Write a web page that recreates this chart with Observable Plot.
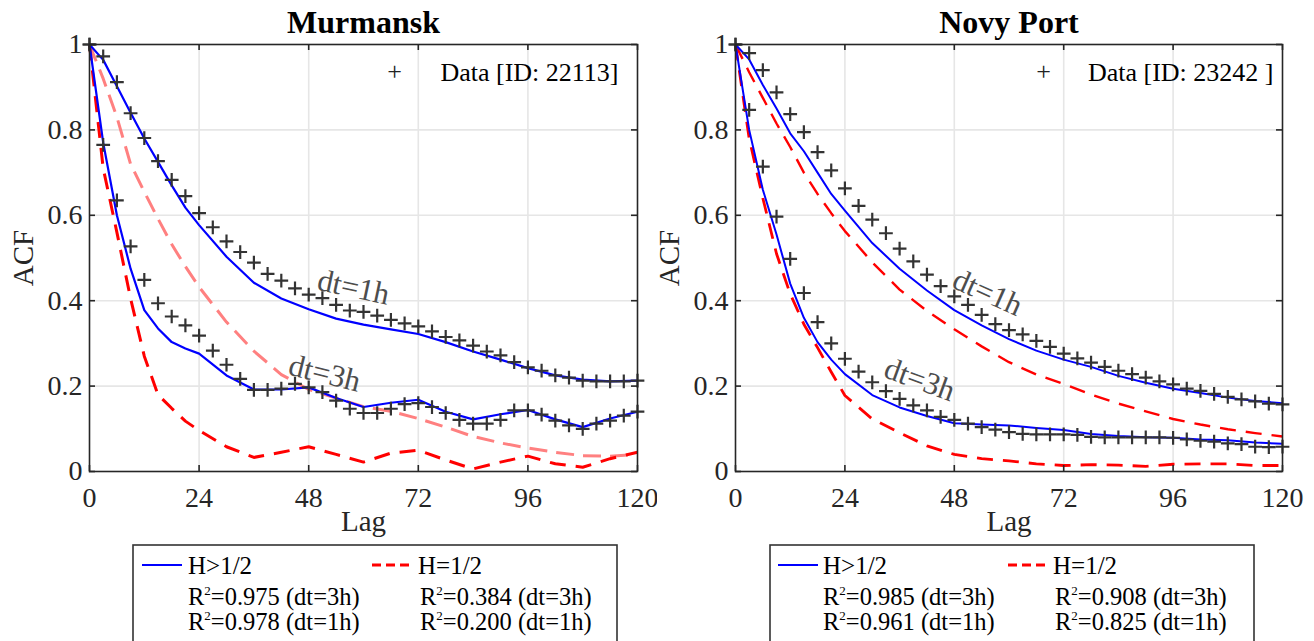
<!DOCTYPE html>
<html>
<head>
<meta charset="utf-8">
<script src="https://cdn.jsdelivr.net/npm/d3@7"></script>
<script src="https://cdn.jsdelivr.net/npm/@observablehq/plot@0.6"></script>
<style>
  html, body { margin: 0; padding: 0; background: #fff; }
  #root { position: relative; width: 1314px; height: 641px; overflow: hidden; background: #fff; font-family: "Liberation Serif", serif; }
  #root > svg { position: absolute; top: 0; }
</style>
</head>
<body>
<div id="root"></div>
<script>
// ---------- data ----------
const X_TICKS = [0, 24, 48, 72, 96, 120];
const Y_TICKS = [0, 0.2, 0.4, 0.6, 0.8, 1];

// lags of the data markers (every 3 h)
const dataLags = [0,3,6,9,12,15,18,21,24,27,30,33,36,39,42,45,48,51,54,57,60,63,66,69,72,75,78,81,84,87,90,93,96,99,102,105,108,111,114,117,120];
// lags of the fitted curves
const fitLags = [0,3,6,9,12,15,18,21,24,30,36,42,48,54,60,66,72,78,84,90,96,102,108,114,120];

// Murmansk
const murmanskData1h = [1.0,0.972,0.912,0.839,0.781,0.727,0.683,0.645,0.605,0.572,0.539,0.514,0.489,0.463,0.447,0.429,0.414,0.406,0.390,0.377,0.374,0.365,0.355,0.347,0.340,0.328,0.315,0.307,0.295,0.281,0.272,0.256,0.244,0.236,0.225,0.220,0.213,0.211,0.211,0.211,0.213];
const murmanskData3h = [1.0,0.765,0.635,0.527,0.449,0.394,0.363,0.342,0.318,0.283,0.250,0.217,0.191,0.191,0.194,0.205,0.197,0.186,0.166,0.147,0.137,0.137,0.147,0.158,0.160,0.151,0.137,0.121,0.112,0.112,0.121,0.143,0.143,0.133,0.119,0.108,0.100,0.112,0.119,0.131,0.140];
const murmanskFitH1h = [1,0.964,0.902,0.84,0.78,0.725,0.67,0.618,0.577,0.503,0.442,0.405,0.38,0.358,0.344,0.333,0.322,0.303,0.281,0.262,0.242,0.225,0.215,0.211,0.213];
const murmanskFitH3h = [1,0.77,0.60,0.475,0.378,0.335,0.303,0.288,0.276,0.225,0.192,0.192,0.197,0.172,0.151,0.161,0.168,0.140,0.122,0.134,0.144,0.122,0.104,0.124,0.140];
const murmanskFitB1h = [1,0.92,0.83,0.72,0.655,0.592,0.532,0.48,0.432,0.35,0.282,0.227,0.192,0.172,0.152,0.141,0.124,0.104,0.082,0.067,0.055,0.045,0.037,0.036,0.040];
const murmanskFitB3h = [1,0.71,0.56,0.405,0.27,0.18,0.148,0.118,0.096,0.058,0.033,0.045,0.058,0.040,0.022,0.043,0.050,0.027,0.006,0.022,0.036,0.018,0.010,0.030,0.045];

// Novy Port
const novyData1h = [1,0.980,0.940,0.888,0.837,0.795,0.748,0.705,0.663,0.622,0.590,0.558,0.522,0.492,0.461,0.434,0.410,0.390,0.367,0.345,0.331,0.321,0.306,0.292,0.276,0.265,0.255,0.245,0.236,0.228,0.220,0.211,0.204,0.194,0.189,0.182,0.175,0.169,0.164,0.159,0.157];
const novyData3h = [1,0.847,0.714,0.597,0.498,0.418,0.350,0.300,0.264,0.234,0.209,0.188,0.170,0.155,0.143,0.128,0.121,0.112,0.104,0.098,0.092,0.088,0.087,0.087,0.087,0.086,0.081,0.080,0.080,0.080,0.080,0.080,0.079,0.075,0.072,0.070,0.066,0.064,0.058,0.057,0.058];
const novyFitH1h = [1,0.965,0.905,0.85,0.792,0.75,0.70,0.65,0.611,0.535,0.475,0.424,0.378,0.342,0.31,0.283,0.262,0.245,0.224,0.208,0.194,0.184,0.173,0.165,0.160];
const novyFitH3h = [1,0.80,0.66,0.555,0.44,0.36,0.303,0.262,0.228,0.179,0.150,0.130,0.113,0.110,0.108,0.102,0.097,0.088,0.083,0.080,0.079,0.075,0.073,0.068,0.065];
const novyFitB1h = [1,0.935,0.875,0.815,0.76,0.70,0.65,0.605,0.563,0.49,0.426,0.376,0.333,0.293,0.256,0.227,0.205,0.180,0.159,0.141,0.123,0.110,0.099,0.090,0.082];
const novyFitB3h = [1,0.78,0.64,0.51,0.416,0.345,0.29,0.233,0.178,0.123,0.091,0.060,0.040,0.030,0.025,0.018,0.014,0.016,0.015,0.012,0.017,0.018,0.018,0.014,0.014];

// annotation labels (text, lag, acf)
const murmanskNotes = [
  {text: "dt=1h", lag: 57.8, acf: 0.431},
  {text: "dt=3h", lag: 51.5, acf: 0.230}
];
const novyNotes = [
  {text: "dt=1h", lag: 55.3, acf: 0.419},
  {text: "dt=3h", lag: 40.4, acf: 0.215}
];

const titles = ["Murmansk", "Novy Port"];
const dataLegend = ["Data [ID: 22113]", "Data [ID: 23242 ]"];
const r2Murmansk = {h3: "0.975", h1: "0.978", b3: "0.384", b1: "0.200"};
const r2Novy = {h3: "0.985", h1: "0.961", b3: "0.908", b1: "0.825"};

// ---------- helpers ----------
const zip = (lags, vals) => lags.map((l, i) => ({lag: l, acf: vals[i]}));
const FONT = "'Liberation Serif', 'Times New Roman', serif";
const AX = "#262626";

function panel(cfg) {
  const W = 657, H = 545, mt = 44, mb = H - 471;
  const frameW = W - cfg.ml - cfg.mr, frameH = 471 - mt;
  const lines = cfg.lines.map(s =>
    Plot.line(zip(fitLags, s.vals), {
      x: "lag", y: "acf", stroke: s.color, strokeWidth: s.width,
      strokeDasharray: s.dash, strokeLinejoin: "round", strokeLinecap: "butt"
    })
  );
  return Plot.plot({
    width: W, height: H,
    marginLeft: cfg.ml, marginRight: cfg.mr, marginTop: mt, marginBottom: mb,
    x: {domain: [0, 120]},
    y: {domain: [0, 1]},
    style: {fontFamily: FONT, fontSize: "28px", color: AX, background: "white", overflow: "visible"},
    marks: [
      Plot.gridX([24, 48, 72, 96], {stroke: "#e6e6e6", strokeOpacity: 1, strokeWidth: 1.6}),
      Plot.gridY([0.2, 0.4, 0.6, 0.8], {stroke: "#e6e6e6", strokeOpacity: 1, strokeWidth: 1.6}),
      ...lines.slice(2),
      ...lines.slice(0, 2),
      Plot.dot(zip(dataLags, cfg.data1h), {x: "lag", y: "acf", symbol: "plus", r: 4.5, stroke: "#333", strokeWidth: 2.2}),
      Plot.dot(zip(dataLags, cfg.data3h), {x: "lag", y: "acf", symbol: "plus", r: 4.5, stroke: "#333", strokeWidth: 2.2}),
      Plot.frame({stroke: AX, strokeWidth: 1.6}),
      Plot.tickX(X_TICKS, {insetTop: frameH - 6, stroke: AX, strokeWidth: 1.6}),
      Plot.tickX(X_TICKS, {insetBottom: frameH - 6, stroke: AX, strokeWidth: 1.6}),
      Plot.tickY(Y_TICKS, {insetRight: frameW - 6, stroke: AX, strokeWidth: 1.6}),
      Plot.tickY(Y_TICKS, {insetLeft: frameW - 6, stroke: AX, strokeWidth: 1.6}),
      Plot.axisX(X_TICKS, {tickSize: 0, tickPadding: 16, label: null, fontSize: 28, fill: AX}),
      Plot.axisY(Y_TICKS, {tickSize: 0, tickPadding: 7, label: null, fontSize: 28, fill: AX, tickFormat: d => String(d)}),
      Plot.text(cfg.notes, {x: "lag", y: "acf", text: "text", rotate: (d, i) => cfg.noteAngles[i],
        fontSize: 31, fontStyle: (d, i) => cfg.noteItalic[i] ? "italic" : "normal", fill: "#4d4d4d"}),
      Plot.text([cfg.title], {frameAnchor: "top", lineAnchor: "middle", dy: -22, fontSize: 32, fontWeight: "bold", fill: "black"}),
      Plot.text(["ACF"], {frameAnchor: "left", lineAnchor: "middle", textAnchor: "middle", dx: -66, rotate: -90, fontSize: 29, fill: AX}),
      Plot.text(["Lag"], {frameAnchor: "bottom", lineAnchor: "middle", dy: 50, fontSize: 29, fill: AX}),
      Plot.text([cfg.legend], {frameAnchor: "top-right", lineAnchor: "middle", dx: cfg.legDx, dy: 28, fontSize: 26, fill: "black", textAnchor: "end"}),
      Plot.text(["+"], {frameAnchor: "top-right", lineAnchor: "middle", dx: cfg.plusDx, dy: 27, fontSize: 26, fill: "#222", textAnchor: "middle"})
    ]
  });
}

const root = document.getElementById("root");

const left = panel({
  ml: 89, mr: 20, title: titles[0], legend: dataLegend[0], legDx: -19, plusDx: -243,
  data1h: murmanskData1h, data3h: murmanskData3h,
  notes: murmanskNotes, noteAngles: [12, 14], noteItalic: [true, false],
  lines: [
    {vals: murmanskFitH1h, color: "#0000ff", width: 2.2},
    {vals: murmanskFitH3h, color: "#0000ff", width: 2.2},
    {vals: murmanskFitB1h, color: "#ff8080", width: 3, dash: "18,9"},
    {vals: murmanskFitB3h, color: "#ff0000", width: 3, dash: "16,10"}
  ]
});
left.style.left = "0px";
root.appendChild(left);

const right = panel({
  ml: 78, mr: 32, title: titles[1], legend: dataLegend[1], legDx: -9, plusDx: -239,
  data1h: novyData1h, data3h: novyData3h,
  notes: novyNotes, noteAngles: [24, 20], noteItalic: [true, true],
  lines: [
    {vals: novyFitH1h, color: "#0000ff", width: 2},
    {vals: novyFitH3h, color: "#0000ff", width: 2},
    {vals: novyFitB1h, color: "#ff0000", width: 2.4, dash: "16,10"},
    {vals: novyFitB3h, color: "#ff0000", width: 2.8, dash: "16,10"}
  ]
});
right.style.left = "657px";
root.appendChild(right);

// ---------- bottom legends ----------
const NS = "http://www.w3.org/2000/svg";
function legendBox(x0, r2, off) {
  const svg = document.createElementNS(NS, "svg");
  svg.setAttribute("width", 490); svg.setAttribute("height", 100);
  svg.style.position = "absolute"; svg.style.left = x0 + "px"; svg.style.top = "544px";
  svg.setAttribute("font-family", FONT);
  const el = (tag, attrs, txt) => {
    const e = document.createElementNS(NS, tag);
    for (const k in attrs) e.setAttribute(k, attrs[k]);
    if (txt != null) e.textContent = txt;
    svg.appendChild(e); return e;
  };
  el("rect", {x: 1, y: 1, width: off.w, height: 140, fill: "white", stroke: "#333", "stroke-width": 1.6});
  el("line", {x1: off.blue0, x2: off.blue0 + 40, y1: 21, y2: 21, stroke: "#0000ff", "stroke-width": 2});
  el("line", {x1: off.red0, x2: off.red0 + 42, y1: 21, y2: 21, stroke: "#ff0000", "stroke-width": 3, "stroke-dasharray": "9,5"});
  el("text", {x: off.t1, y: 30, "font-size": 25, fill: "black"}, "H>1/2");
  el("text", {x: off.t2, y: 30, "font-size": 25, fill: "black"}, "H=1/2");
  const r2text = (x, y, val, dt) => {
    const t = el("text", {x, y, "font-size": 24.5, fill: "black"});
    const a = document.createElementNS(NS, "tspan"); a.textContent = "R"; t.appendChild(a);
    const s = document.createElementNS(NS, "tspan"); s.textContent = "2"; s.setAttribute("font-size", 13); s.setAttribute("dy", -10); t.appendChild(s);
    const b = document.createElementNS(NS, "tspan"); b.textContent = "=" + val + " (dt=" + dt + ")"; b.setAttribute("dy", 10); t.appendChild(b);
  };
  r2text(off.t1, 61, r2.h3, "3h");
  r2text(off.t1, 86, r2.h1, "1h");
  r2text(off.t2r, 61, r2.b3, "3h");
  r2text(off.t2r, 86, r2.b1, "1h");
  root.appendChild(svg);
}
legendBox(132, r2Murmansk, {w: 484, blue0: 10, red0: 240, t1: 56, t2: 286, t2r: 288});
legendBox(769, r2Novy, {w: 484, blue0: 9, red0: 239, t1: 54, t2: 284, t2r: 286});
</script>
</body>
</html>
